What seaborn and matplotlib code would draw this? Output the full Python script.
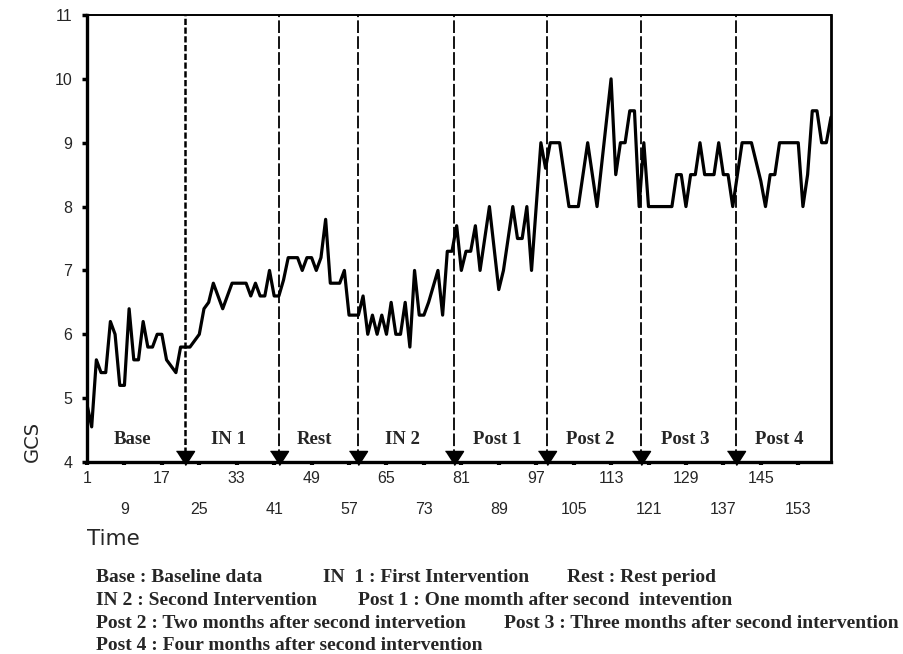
import matplotlib
matplotlib.use("Agg")
import matplotlib.pyplot as plt
import seaborn as sns
import pandas as pd

# GCS score per session
gcs = [
    4.9, 4.55, 5.6, 5.4, 5.4, 6.2, 6.0, 5.2, 5.2, 6.4,
    5.6, 5.6, 6.2, 5.8, 5.8, 6.0, 6.0, 5.6, 5.5, 5.4,
    5.8, 5.8, 5.8, 5.9, 6.0, 6.4, 6.5, 6.8, 6.6, 6.4,
    6.6, 6.8, 6.8, 6.8, 6.8, 6.6, 6.8, 6.6, 6.6, 7.0,
    6.6, 6.6, 6.85, 7.2, 7.2, 7.2, 7.0, 7.2, 7.2, 7.0,
    7.2, 7.8, 6.8, 6.8, 6.8, 7.0, 6.3, 6.3, 6.3, 6.6,
    6.0, 6.3, 6.0, 6.3, 6.0, 6.5, 6.0, 6.0, 6.5, 5.8,
    7.0, 6.3, 6.3, 6.5, 6.75, 7.0, 6.3, 7.3, 7.3, 7.7,
    7.0, 7.3, 7.3, 7.7, 7.0, 7.5, 8.0, 7.35, 6.7, 7.0,
    7.5, 8.0, 7.5, 7.5, 8.0, 7.0, 8.0, 9.0, 8.6, 9.0,
    9.0, 9.0, 8.5, 8.0, 8.0, 8.0, 8.5, 9.0, 8.5, 8.0,
    8.67, 9.33, 10.0, 8.5, 9.0, 9.0, 9.5, 9.5, 8.0, 9.0,
    8.0, 8.0, 8.0, 8.0, 8.0, 8.0, 8.5, 8.5, 8.0, 8.5,
    8.5, 9.0, 8.5, 8.5, 8.5, 9.0, 8.5, 8.5, 8.0, 8.5,
    9.0, 9.0, 9.0, 8.7, 8.4, 8.0, 8.5, 8.5, 9.0, 9.0,
    9.0, 9.0, 9.0, 8.0, 8.5, 9.5, 9.5, 9.0, 9.0, 9.4,
]
session = list(range(1, len(gcs) + 1))

# phase change points (session index) and phase names
phase_bounds = [21.9, 42, 59, 79.5, 99.3, 119.5, 139.6]
phase_names = ["Base", "IN 1", "Rest", "IN 2", "Post 1", "Post 2", "Post 3", "Post 4"]

y_ticks = [4, 5, 6, 7, 8, 9, 10, 11]
x_ticks_upper = [1, 17, 33, 49, 65, 81, 97, 113, 129, 145]
x_ticks_lower = [9, 25, 41, 57, 73, 89, 105, 121, 137, 153]

# key lines under the chart: (text, x in px, horizontal alignment)
legend_lines = [
    [("Base : Baseline data", 96, "left"), ("IN  1 : First Intervention", 323, "left"),
     ("Rest : Rest period", 567, "left")],
    [("IN 2 : Second Intervention", 96, "left"),
     ("Post 1 : One momth after second  intevention", 358, "left")],
    [("Post 2 : Two months after second intervetion", 96, "left"),
     ("Post 3 : Three months after second intervention", 899, "right")],
    [("Post 4 : Four months after second intervention", 96, "left")],
]

sns.set_style("white")
plt.rcParams["font.family"] = ["Liberation Sans", "DejaVu Sans"]

W, H = 904, 654
fig = plt.figure(figsize=(W / 100, H / 100), dpi=100)
ax = fig.add_axes([87 / W, 1 - 462 / H, (831 - 87) / W, (462 - 15) / H])

df = pd.DataFrame({"Time": session, "GCS": gcs})
sns.lineplot(data=df, x="Time", y="GCS", color="black", lw=2.3, ax=ax, zorder=4)

ax.set_xlim(1, 160)
ax.set_ylim(4, 11)

# phase boundaries: dashed verticals ending in a down arrow on the time axis
arrow = [(-9, 11), (9, 11), (0, -3)]
for i, b in enumerate(phase_bounds):
    if i == 0:
        ax.axvline(b, color="black", lw=1.8, ls=(0, (2.5, 1.0)), zorder=3)
    else:
        ax.axvline(b, color="black", lw=1.3, ls=(0, (7, 1.8)), zorder=3)
    ax.plot(b, 4, marker=arrow, ms=15.9, color="black", clip_on=False, zorder=6)

edges = [1] + phase_bounds + [160]
for name, a, b in zip(phase_names, edges[:-1], edges[1:]):
    ax.text((a + b) / 2 - 0.8, 4.35, name, ha="center", va="center",
            family="Liberation Serif", fontweight="bold", fontsize=13.5)

ax.set_yticks(y_ticks)
ax.set_yticklabels([str(v) for v in y_ticks])
ax.set_xticks(x_ticks_upper)
ax.set_xticklabels([str(v) for v in x_ticks_upper])
ax.set_xticks(x_ticks_lower, minor=True)
ax.set_xticklabels([str(v) for v in x_ticks_lower], minor=True)

ax.tick_params(axis="y", which="major", direction="out", length=3.5, width=2.5,
               color="black", labelsize=11.5, pad=7, left=True)
ax.tick_params(axis="x", which="major", direction="out", length=2.5, width=3,
               color="black", labelsize=11.5, pad=4, bottom=True)
ax.tick_params(axis="x", which="minor", direction="out", length=2.5, width=3,
               color="black", labelsize=11.5, pad=26, bottom=True)

for side, lw in (("left", 2.4), ("bottom", 2.4), ("right", 2.0), ("top", 1.4)):
    ax.spines[side].set_visible(True)
    ax.spines[side].set_color("black")
    ax.spines[side].set_linewidth(lw)

ax.set_ylabel("GCS", loc="bottom", fontsize=14, labelpad=9, family=["DejaVu Sans"])
ax.set_xlabel("Time", loc="left", fontsize=15.5, labelpad=9, family=["DejaVu Sans"])

for row, segs in enumerate(legend_lines):
    y = 1 - (578 + row * 22.5) / H
    for txt, xp, ha in segs:
        fig.text(xp / W, y, txt, ha=ha, va="center",
                 family="Liberation Serif", fontweight="bold", fontsize=14)

fig.savefig("out.png", dpi=100)
